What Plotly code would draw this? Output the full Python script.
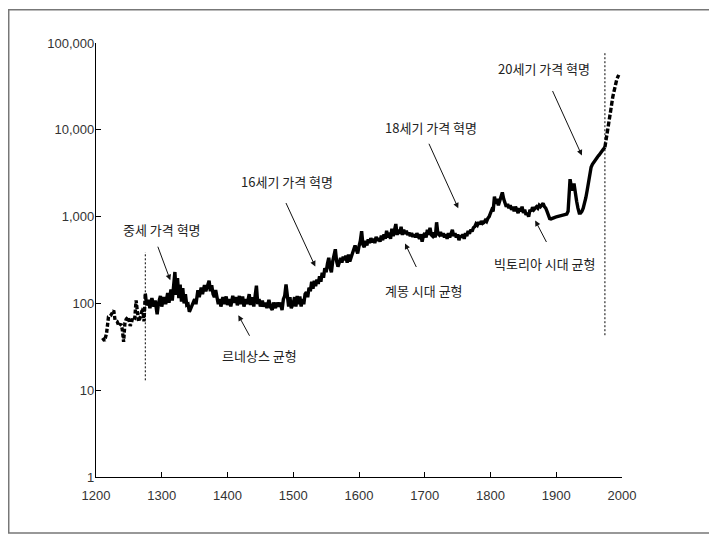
import math
import plotly.graph_objects as go

# ---- data (price index, log scale) ----
early_years = [1210, 1213, 1216, 1219, 1222, 1225, 1227, 1229, 1232, 1235, 1238, 1240, 1242, 1244,
               1246, 1249, 1252, 1254, 1256, 1259, 1261, 1263, 1265, 1268, 1271, 1273, 1275]
early_prices = [40, 37, 45, 70, 72, 80, 83, 64, 62, 55, 58, 50, 36, 60,
                66, 70, 55, 60, 70, 68, 108, 80, 62, 72, 88, 62, 130]

main_years = [1275, 1277, 1280, 1282, 1285, 1288, 1290, 1293, 1295, 1298, 1300, 1303, 1306, 1309,
              1311, 1314, 1316, 1318, 1320, 1322, 1324, 1326, 1328, 1330, 1332, 1334, 1336, 1338,
              1340, 1342, 1345, 1348, 1350, 1352, 1355, 1357, 1360, 1362, 1365, 1367, 1370, 1372,
              1374, 1376, 1378, 1380, 1382, 1384, 1386, 1388, 1390, 1393, 1395, 1398, 1400, 1403,
              1405, 1408, 1410, 1413, 1415, 1418, 1420, 1423, 1425, 1428, 1430, 1433, 1435, 1438,
              1440, 1442, 1444, 1446, 1448, 1450, 1453, 1455, 1458, 1460, 1463, 1465, 1468, 1470,
              1473, 1475, 1478, 1480, 1483, 1485, 1487, 1489, 1491, 1493, 1495, 1497, 1500,
              1502, 1504, 1506, 1508, 1510, 1512, 1514, 1516, 1518, 1520, 1522, 1524, 1526, 1528,
              1530, 1532, 1534, 1536, 1538, 1540, 1542, 1544, 1546, 1548, 1550, 1552, 1554, 1556,
              1558, 1560, 1562, 1564, 1566, 1568, 1570, 1572, 1574, 1576, 1578, 1580, 1582, 1584,
              1586, 1588, 1590, 1592, 1594, 1596, 1598, 1600,
              1602, 1604, 1606, 1608, 1610, 1612, 1614, 1616, 1618, 1620, 1622, 1624, 1626, 1628,
              1630, 1632, 1634, 1636, 1638, 1640, 1642, 1644, 1646, 1648, 1650, 1652, 1654, 1656,
              1658, 1660, 1662, 1664, 1666, 1668, 1670, 1672, 1674, 1676, 1678, 1680, 1682, 1684,
              1686, 1688, 1690, 1692, 1694, 1696, 1698, 1700,
              1702, 1704, 1706, 1708, 1710, 1712, 1714, 1716, 1718, 1720, 1722, 1724, 1726, 1728,
              1730, 1732, 1734, 1736, 1738, 1740, 1742, 1744, 1746, 1748, 1750, 1752, 1754, 1756,
              1758, 1760, 1762, 1764, 1766, 1768, 1770, 1772, 1774, 1776, 1778, 1780, 1782, 1784,
              1786, 1788, 1790, 1792, 1794, 1796, 1798, 1800,
              1802, 1804, 1806, 1808, 1810, 1812, 1814, 1816, 1818, 1820, 1822, 1824, 1826, 1828,
              1830, 1832, 1834, 1836, 1838, 1840, 1842, 1844, 1846, 1848, 1850, 1852, 1854, 1856,
              1858, 1860, 1862, 1864, 1866, 1868, 1870, 1872, 1874, 1876, 1878, 1880, 1882, 1884,
              1886, 1888, 1890, 1892, 1894, 1896, 1898, 1900,
              1902, 1904, 1906, 1908, 1910, 1912, 1914, 1916, 1918, 1920, 1921, 1923, 1925, 1927,
              1929, 1931, 1933, 1935, 1937, 1939, 1941, 1943, 1945, 1947, 1949, 1951, 1953, 1955,
              1957, 1959, 1961, 1963, 1965, 1967, 1969, 1971, 1974]
main_prices = [130, 95, 110, 88, 115, 92, 108, 75, 100, 122, 92, 118, 98, 132,
               102, 145, 108, 175, 230, 125, 195, 115, 165, 105, 150, 100, 128, 96,
               98, 80, 90, 102, 112, 98, 142, 118, 152, 128, 162, 138, 158, 182,
               138, 162, 128, 118, 142, 112, 98, 112, 92, 118, 98, 120, 96, 112,
               92, 122, 102, 118, 95, 122, 98, 120, 92, 112, 98, 128, 96, 118,
               92, 122, 160, 98, 112, 92, 108, 92, 102, 88, 110, 92, 84, 102,
               88, 102, 92, 102, 84, 112, 122, 165, 108, 92, 118, 88, 100,
               118, 92, 122, 98, 120, 92, 112, 98, 128, 135, 118, 152, 138, 178,
               148, 182, 158, 188, 168, 205, 178, 225, 198, 255, 228, 285, 335, 258,
               228, 305, 385, 420, 305, 265, 295, 335, 295, 345, 315, 355, 295, 365,
               305, 345, 385, 435, 465, 415, 375, 455,
               525, 680, 475, 445, 525, 465, 545, 495, 565, 505, 555, 495, 585, 525,
               565, 515, 605, 535, 625, 555, 685, 575, 655, 555, 725, 595, 685, 820,
               615, 705, 635, 765, 615, 705, 635, 685, 615, 655, 595, 645, 585, 625,
               575, 645, 595, 555, 625, 515, 605, 645,
               575, 705, 615, 745, 615, 595, 655, 575, 860, 635, 615, 665, 595, 645,
               575, 625, 555, 645, 575, 625, 705, 595, 645, 575, 625, 535, 605, 575,
               625, 555, 645, 595, 685, 635, 705, 675, 745, 765, 825, 795, 865, 815,
               885, 835, 855, 905, 875, 955, 1000, 1100,
               1200, 1150, 1700, 1400, 1600, 1350, 1500, 1700, 1900, 1600, 1450, 1300, 1400, 1250,
               1350, 1200, 1300, 1150, 1300, 1200, 1100, 1250, 1150, 1300, 1100, 1200, 1050, 1100,
               1000, 1200, 1150, 1280, 1200, 1250, 1300, 1250, 1350, 1300, 1380, 1420, 1300, 1250,
               1150, 1050, 950, 940, 960, 970, 980, 990,
               1000, 1000, 1010, 1020, 1030, 1040, 1050, 1070, 1150, 2300, 2700, 2200, 2000, 2400,
               1800, 1500, 1250, 1100, 1100, 1150, 1250, 1400, 1650, 2000, 2500, 3100, 3700, 4000,
               4250, 4500, 4700, 4900, 5100, 5300, 5600, 5900, 6300]

late_years = [1974, 1977, 1980, 1983, 1986, 1989, 1992, 1995]
late_prices = [6300, 8500, 12000, 17000, 24000, 32000, 38000, 43000]

ytick_vals = [1, 10, 100, 1000, 10000, 100000]
ytick_text = ["1", "10", "100", "1,000", "10,000", "100,000"]
xtick_vals = [1200, 1300, 1400, 1500, 1600, 1700, 1800, 1900, 2000]

divider_years = [1275, 1974]
divider_low = [13, 43]
divider_high = [390, 78000]

# label text, text year, text value, arrow-head year, arrow-head value, arrow tail offset (px)
label_texts = ["중세 가격 혁명", "르네상스 균형", "16세기 가격 혁명", "계몽 시대 균형",
               "18세기 가격 혁명", "빅토리아 시대 균형", "20세기 가격 혁명"]
label_years = [1301, 1448, 1491, 1699, 1710, 1883, 1881]
label_values = [711, 25.2, 2540, 142, 10670, 288, 51300]
head_years = [1313, 1416.5, 1533.5, 1670, 1751, 1868, 1939]
head_values = [185, 73, 266, 490, 1247, 902, 5058]
tail_dx = [-13, 12, -30, 12, -30, 12, -30]
tail_dy = [-35, 22, -65, 25, -66, 23, -66]

fig = go.Figure()

line_style = dict(color="black", width=3.4)
fig.add_trace(go.Scatter(x=early_years, y=early_prices, mode="lines",
                         line=dict(color="black", width=3.4, dash="4px,2px"), hoverinfo="skip"))
fig.add_trace(go.Scatter(x=main_years, y=main_prices, mode="lines",
                         line=line_style, hoverinfo="skip"))
fig.add_trace(go.Scatter(x=late_years, y=late_prices, mode="lines",
                         line=dict(color="black", width=3.4, dash="5px,2px"), hoverinfo="skip"))

for yr, lo, hi in zip(divider_years, divider_low, divider_high):
    fig.add_trace(go.Scatter(x=[yr, yr], y=[lo, hi], mode="lines",
                             line=dict(color="black", width=1, dash="2px,2px"), hoverinfo="skip"))

annotations = []
for t, ty, tv, hy, hv, dx, dy in zip(label_texts, label_years, label_values,
                                      head_years, head_values, tail_dx, tail_dy):
    annotations.append(dict(x=hy, y=math.log10(hv), xref="x", yref="y", text="",
                            showarrow=True, arrowhead=2, arrowsize=1.1, arrowwidth=1,
                            arrowcolor="#111", ax=dx, ay=dy, standoff=0))
    annotations.append(dict(x=ty, y=math.log10(tv), xref="x", yref="y", text=t,
                            showarrow=False, xanchor="center", yanchor="middle",
                            font=dict(family="Noto Sans CJK KR", size=13, color="#222")))

# page body adds an 8px offset, so the figure is 8px smaller and margins shifted
fig.update_layout(
    width=709, height=529,
    margin=dict(l=88, r=95, t=35, b=60),
    paper_bgcolor="white", plot_bgcolor="white",
    showlegend=False,
    annotations=annotations,
    shapes=[dict(type="rect", xref="paper", yref="paper",
                 x0=-0.1659, x1=1.1749, y0=-0.129, y1=1.0765,
                 line=dict(color="#777", width=1.5), fillcolor="rgba(0,0,0,0)", layer="below")],
    xaxis=dict(range=[1200, 2000], tickvals=xtick_vals, showgrid=False, zeroline=False,
               showline=True, linecolor="black", linewidth=1.3,
               ticks="inside", ticklen=5, tickcolor="black", tickwidth=1,
               ticklabelstandoff=6,
               tickfont=dict(family="Liberation Sans", size=13, color="#333")),
    yaxis=dict(type="log", range=[0, 5], tickvals=ytick_vals, ticktext=ytick_text,
               showgrid=False, zeroline=False, showline=True, linecolor="black", linewidth=1.3,
               ticks="inside", ticklen=5, tickcolor="black", tickwidth=1,
               ticklabelstandoff=-2,
               tickfont=dict(family="Liberation Sans", size=13, color="#333")),
)

fig.write_html("out.html")
